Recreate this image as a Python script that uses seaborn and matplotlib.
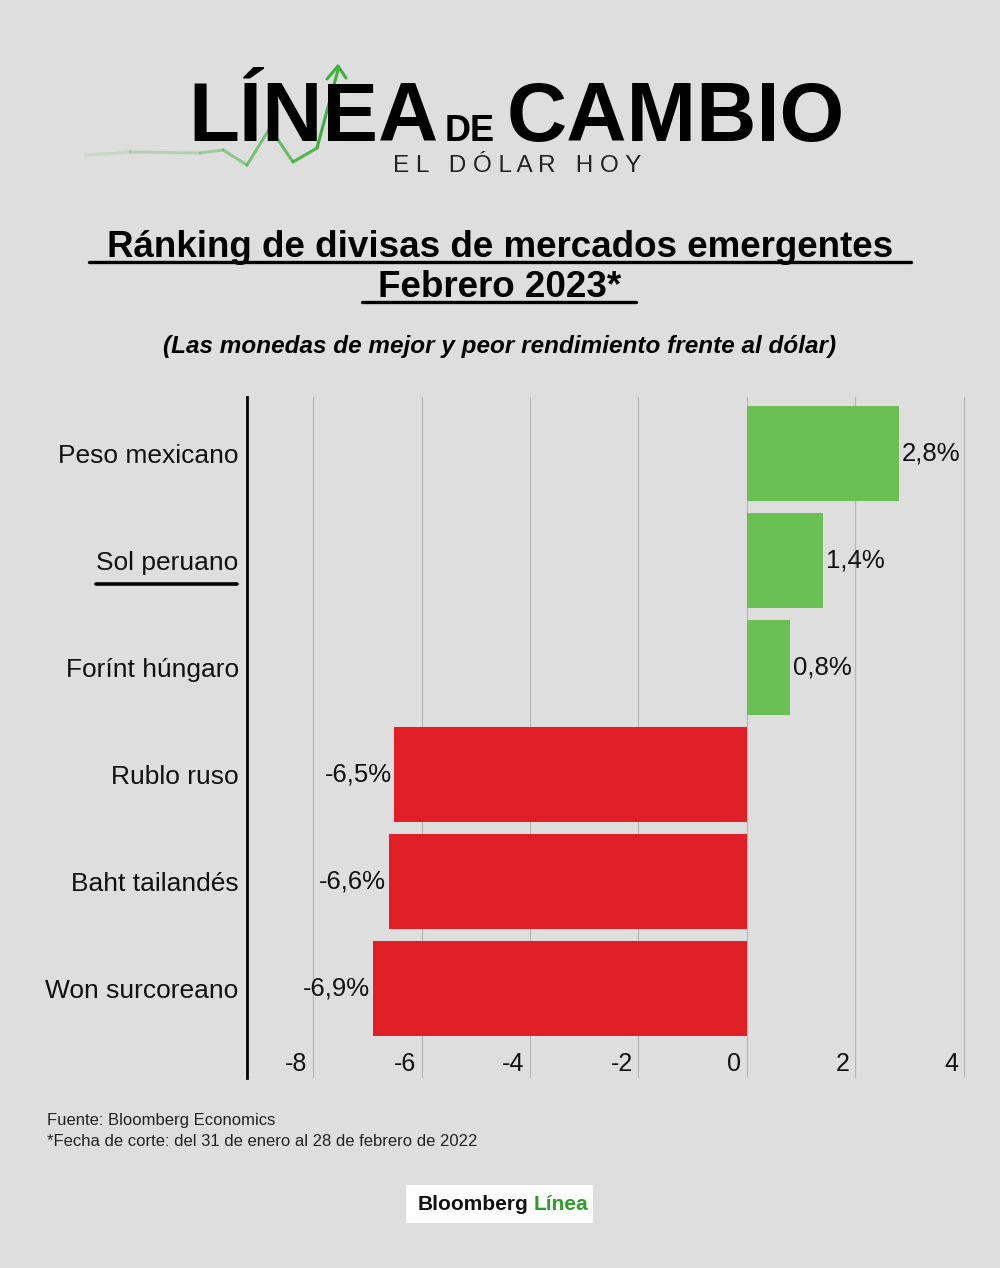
import numpy as np
import pandas as pd
import matplotlib
matplotlib.use("Agg")
import matplotlib.pyplot as plt
import matplotlib.transforms as mtransforms
from matplotlib.patches import Rectangle
import seaborn as sns

# data
monedas = ["Peso mexicano", "Sol peruano", "Forínt húngaro",
           "Rublo ruso", "Baht tailandés", "Won surcoreano"]
variacion = [2.8, 1.4, 0.8, -6.5, -6.6, -6.9]
etiquetas = ["2,8%", "1,4%", "0,8%", "-6,5%", "-6,6%", "-6,9%"]
ticks_x = [-8, -6, -4, -2, 0, 2, 4]

BG = "#dedede"
VERDE = "#6abf55"
ROJO = "#e01f26"

sns.set_style("white")
plt.rcParams["font.family"] = ["Liberation Sans", "DejaVu Sans"]
plt.rcParams["axes.unicode_minus"] = False

H = 1268
def fy(p):
    return 1 - p / H

df = pd.DataFrame({"moneda": monedas, "var": variacion})
colores = {m: (VERDE if v > 0 else ROJO) for m, v in zip(monedas, variacion)}

fig = plt.figure(figsize=(10, 12.68), dpi=100, facecolor=BG)
ax = fig.add_axes([0.247, 0.1498, 0.719, 0.5371])
ax.set_facecolor(BG)

sns.barplot(data=df, x="var", y="moneda", hue="moneda", palette=colores,
            orient="h", width=0.89, legend=False, ax=ax, saturation=1,
            linewidth=0, edgecolor="none", zorder=2)

ax.set_xlim(-9.22, 4.04)
ax.set_ylim(5.84, -0.53)
ax.set_xticks(ticks_x)
ax.grid(axis="x", color="#b9b9b9", linewidth=0.9, zorder=0)
ax.set_axisbelow(True)
for s in ["top", "right", "bottom"]:
    ax.spines[s].set_visible(False)
ax.spines["left"].set_color("black")
ax.spines["left"].set_linewidth(2)
ax.set_xlabel("")
ax.set_ylabel("")

# y labels
ax.tick_params(axis="y", length=0, pad=6, labelsize=19, labelcolor="#111111")
# x tick labels inside the axes, right aligned to gridline
ax.tick_params(axis="x", length=0, pad=-19, labelsize=18, labelcolor="#111111")
off = mtransforms.ScaledTranslation(-4 / 72, 0, fig.dpi_scale_trans)
for lbl in ax.get_xticklabels():
    lbl.set_horizontalalignment("right")
    lbl.set_verticalalignment("top")
    lbl.set_transform(lbl.get_transform() + off)

# value labels
for cont in ax.containers:
    for bar in cont:
        w = bar.get_width()
        i = int(round(bar.get_y() + bar.get_height() / 2))
        if w > 0:
            ax.annotate(etiquetas[i], (w, i), xytext=(2, 0), textcoords="offset points",
                        ha="left", va="center", fontsize=18.5, color="#111111")
        else:
            ax.annotate(etiquetas[i], (w, i), xytext=(-2, 0), textcoords="offset points",
                        ha="right", va="center", fontsize=18.5, color="#111111")

# underline Sol peruano
fig.add_artist(plt.Line2D([0.096, 0.237], [fy(584)] * 2, color="black", lw=2.6))

# logo header
fig.text(0.188, fy(141), "LÍNEA", fontsize=60, fontweight="heavy",
         ha="left", va="baseline", color="black")
fig.text(0.470, fy(141), "DE", fontsize=26, fontweight="heavy",
         ha="center", va="baseline", color="black")
fig.text(0.845, fy(141), "CAMBIO", fontsize=60, fontweight="heavy",
         ha="right", va="baseline", color="black")
fig.text(0.517, fy(166), "E L   D Ó L A R   H O Y", fontsize=17.5,
         ha="center", va="center", color="#222222")
px = [85, 130, 200, 223, 247, 270, 293, 317, 338]
py = [155, 152, 153, 150, 165, 128, 162, 148, 70]
for k in range(len(px) - 1):
    a = 0.15 + 0.85 * k / (len(px) - 2)
    fig.add_artist(plt.Line2D([px[k] / 1000, px[k + 1] / 1000],
                              [fy(py[k]), fy(py[k + 1])],
                              color="#3fb13a", lw=2.2, alpha=a))
fig.add_artist(plt.Line2D([327 / 1000, 338 / 1000, 346 / 1000],
                          [fy(79), fy(66), fy(78)],
                          color="#3fb13a", lw=2.2))

# titles
fig.text(0.5, fy(257), "Ránking de divisas de mercados emergentes",
         fontsize=26.5, fontweight="bold", ha="center", va="baseline", color="black")
fig.text(0.5, fy(297), "Febrero 2023*",
         fontsize=26.5, fontweight="bold", ha="center", va="baseline", color="black")
fig.add_artist(plt.Line2D([0.089, 0.911], [fy(262)] * 2, color="black", lw=2.4))
fig.add_artist(plt.Line2D([0.362, 0.636], [fy(302)] * 2, color="black", lw=2.4))
fig.text(0.5, fy(353), "(Las monedas de mejor y peor rendimiento frente al dólar)",
         fontsize=17.5, fontweight="bold", style="italic", ha="center", va="baseline",
         color="black")

# footer
fig.text(0.047, fy(1121), "Fuente: Bloomberg Economics", fontsize=12,
         ha="left", va="center", color="#222222")
fig.text(0.047, fy(1142), "*Fecha de corte: del 31 de enero al 28 de febrero de 2022",
         fontsize=12, ha="left", va="center", color="#222222")

fig.add_artist(Rectangle((0.406, fy(1223)), 0.187, 38 / H,
                         transform=fig.transFigure, facecolor="white", edgecolor="none"))
fig.text(0.418, fy(1204), "Bloomberg", fontsize=15, fontweight="bold",
         ha="left", va="center", color="#111111")
fig.text(0.534, fy(1204), "Línea", fontsize=15, fontweight="bold",
         ha="left", va="center", color="#2e9e2a")

fig.savefig("out.png", dpi=100, facecolor=BG)
